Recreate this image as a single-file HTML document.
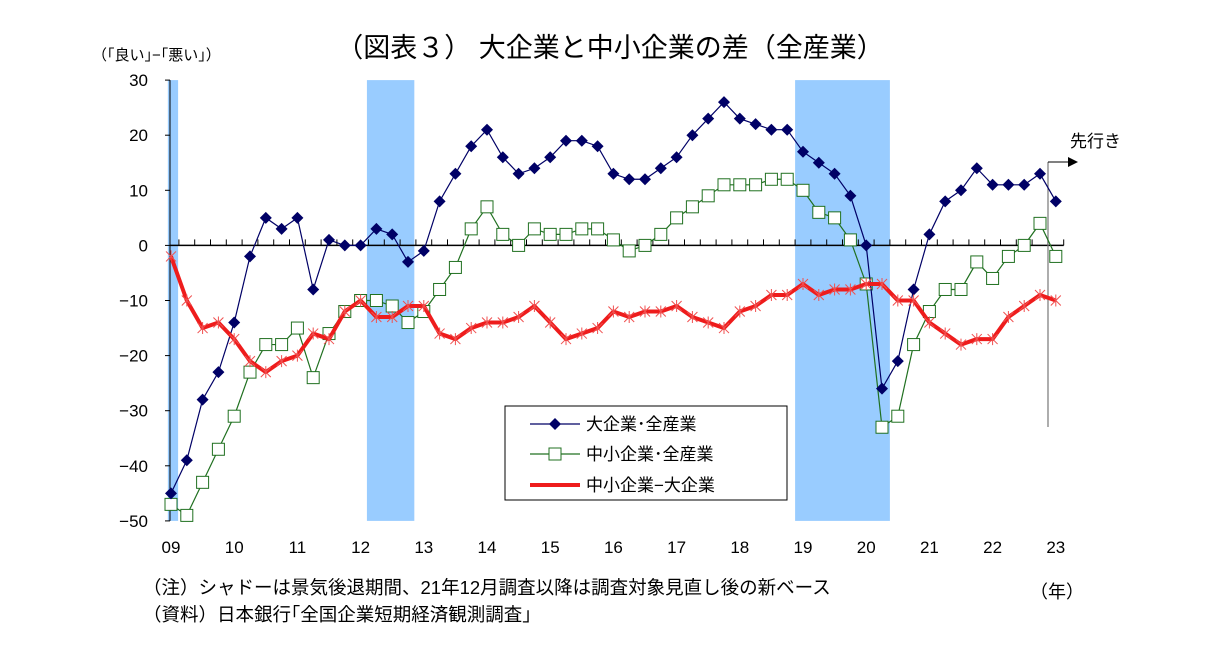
<!DOCTYPE html>
<html><head><meta charset="utf-8"><style>
body{margin:0;background:#fff;font-family:"Liberation Sans","Noto Sans CJK JP",sans-serif;}
svg text{font-family:"Liberation Sans","Noto Sans CJK JP",sans-serif;}
</style></head><body>
<svg id="c" width="1211" height="661" xmlns="http://www.w3.org/2000/svg">
<text x="610" y="57" font-size="27" text-anchor="middle">（図表３） 大企業と中小企業の差（全産業）</text>
<text x="92" y="60" font-size="15">（｢良い｣−｢悪い｣）</text>
<g id="bands"></g><g id="axes"></g><g id="lines"></g>
<text x="1070" y="147" font-size="17">先行き</text>
<text x="143" y="594" font-size="18.5">（注）シャドーは景気後退期間、21年12月調査以降は調査対象見直し後の新ベース</text>
<text x="143" y="621" font-size="18.5">（資料）日本銀行｢全国企業短期経済観測調査｣</text>
<text x="1030" y="598" font-size="18">（年）</text>
<g>
<rect x="505" y="406" width="282" height="94" fill="#fff" stroke="#000" stroke-width="1"/>
<line x1="530" y1="424" x2="580" y2="424" stroke="#000066" stroke-width="1.2"/><path d="M555 418 L561 424 L555 430 L549 424Z" fill="#000066"/>
<text x="586" y="430" font-size="17">大企業･全産業</text>
<line x1="530" y1="454" x2="580" y2="454" stroke="#207020" stroke-width="1.2"/><rect x="549" y="448" width="12" height="12" fill="#fff" stroke="#207020"/>
<text x="586" y="460" font-size="17">中小企業･全産業</text>
<line x1="530" y1="485" x2="580" y2="485" stroke="#ee1c1c" stroke-width="4"/>
<text x="586" y="491" font-size="17">中小企業−大企業</text>
</g>
</svg>
<script>
const large=[-45,-39,-28,-23,-14,-2,5,3,5,-8,1,0,0,3,2,-3,-1,8,13,18,21,16,13,14,16,19,19,18,13,12,12,14,16,20,23,26,23,22,21,21,17,15,13,9,0,-26,-21,-8,2,8,10,14,11,11,11,13,8];
const small=[-47,-49,-43,-37,-31,-23,-18,-18,-15,-24,-16,-12,-10,-10,-11,-14,-12,-8,-4,3,7,2,0,3,2,2,3,3,1,-1,0,2,5,7,9,11,11,11,12,12,10,6,5,1,-7,-33,-31,-18,-12,-8,-8,-3,-6,-2,0,4,-2];
const diff=[-2,-10,-15,-14,-17,-21,-23,-21,-20,-16,-17,-12,-10,-13,-13,-11,-11,-16,-17,-15,-14,-14,-13,-11,-14,-17,-16,-15,-12,-13,-12,-12,-11,-13,-14,-15,-12,-11,-9,-9,-7,-9,-8,-8,-7,-7,-10,-10,-14,-16,-18,-17,-17,-13,-11,-9,-10];
const yearLabels=["09","10","11","12","13","14","15","16","17","18","19","20","21","22","23"];
const yTicks=[30,20,10,0,-10,-20,-30,-40,-50];
const shades=[[-0.2,0.45],[12.4,15.4],[39.5,45.5]];
const X=i=>171+i*15.8, Y=v=>245.4-v*5.51;
const NS="http://www.w3.org/2000/svg";
function mk(t,a,p){const e=document.createElementNS(NS,t);for(const k in a)e.setAttribute(k,a[k]);p.appendChild(e);return e;}
const B=document.getElementById('bands'),A=document.getElementById('axes'),L=document.getElementById('lines');
shades.forEach(s=>{const r=mk('rect',{x:X(s[0]),y:Y(30),width:X(s[1])-X(s[0]),height:Y(-50)-Y(30),fill:'#99ccff'},B);

});
mk('line',{x1:170,y1:Y(30),x2:170,y2:Y(-50),stroke:'#000'},A);
yTicks.forEach(v=>{mk('line',{x1:165,y1:Y(v),x2:170,y2:Y(v),stroke:'#000'},A);
const t=mk('text',{x:148,y:Y(v)+6,'font-size':17,'text-anchor':'end'},A);t.textContent=String(v).replace('-','−');

});
mk('line',{x1:170,y1:Y(0),x2:X(56.5),y2:Y(0),stroke:'#000','stroke-width':1.5},A);
for(let i=0;i<=56;i++){mk('line',{x1:X(i+0.5),y1:Y(0),x2:X(i+0.5),y2:Y(0)-6,stroke:'#000'},A);}
yearLabels.forEach((l,k)=>{const t=mk('text',{x:X(k*4),y:553,'font-size':17,'text-anchor':'middle'},A);t.textContent=l;

});
mk('line',{x1:1048,y1:162,x2:1048,y2:427,stroke:'#777','stroke-width':1.2},A);
mk('line',{x1:1048,y1:162,x2:1072,y2:162,stroke:'#000'},A);
mk('path',{d:'M1078 162 L1068 157 L1068 167Z',fill:'#000'},A);
function pts(a){return a.map((v,i)=>X(i)+','+Y(v)).join(' ');}
const pg=mk('polyline',{points:pts(small),fill:'none',stroke:'#207020','stroke-width':1.2},L);


small.forEach((v,i)=>{const r=mk('rect',{x:X(i)-6,y:Y(v)-6,width:12,height:12,fill:'#fff',stroke:'#207020'},L);

});
const pb=mk('polyline',{points:pts(large),fill:'none',stroke:'#000066','stroke-width':1.2},L);


large.forEach((v,i)=>{const x=X(i),y=Y(v);const d=mk('path',{d:`M${x} ${y-6}L${x+6} ${y}L${x} ${y+6}L${x-6} ${y}Z`,fill:'#000066'},L);

});
const pr=mk('polyline',{points:pts(diff),fill:'none',stroke:'#ee1c1c','stroke-width':4,'stroke-linejoin':'round'},L);


diff.forEach((v,i)=>{const x=X(i),y=Y(v);const m=mk('path',{d:`M${x-5} ${y-5}L${x+5} ${y+5}M${x+5} ${y-5}L${x-5} ${y+5}M${x} ${y-6}L${x} ${y+6}`,stroke:'#f05050','stroke-width':1},L);

});
</script>
</body></html>
